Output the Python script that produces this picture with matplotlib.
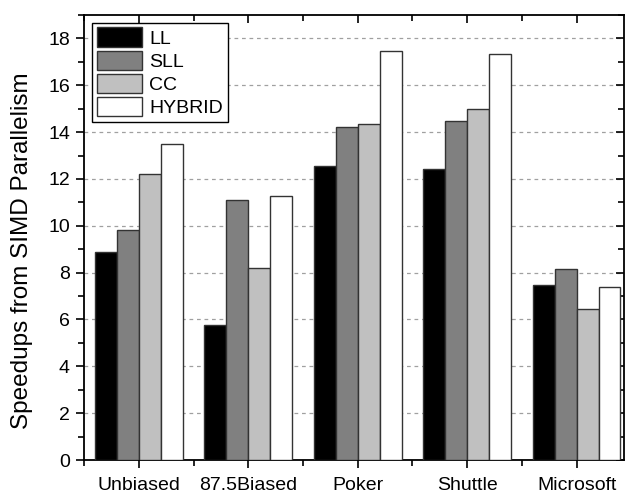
import matplotlib
matplotlib.use("Agg")
import matplotlib.pyplot as plt
import numpy as np
from matplotlib.ticker import MultipleLocator, FixedLocator

plt.rcParams['font.family'] = ['Liberation Sans', 'DejaVu Sans']

categories = ["Unbiased", "87.5Biased", "Poker", "Shuttle", "Microsoft"]
series_names = ["LL", "SLL", "CC", "HYBRID"]
LL = [8.88, 5.76, 12.54, 12.43, 7.48]
SLL = [9.83, 11.11, 14.23, 14.48, 8.16]
CC = [12.23, 8.19, 14.36, 15.0, 6.43]
HYBRID = [13.48, 11.28, 17.48, 17.32, 7.38]
colors = ["#000000", "#808080", "#c0c0c0", "#ffffff"]

fig = plt.figure(figsize=(6.26, 4.94), dpi=100)
ax = fig.add_axes([0.134, 0.0688, 0.863, 0.9008])

x = np.arange(1, len(categories) + 1)
w = 0.2
for i, (vals, c, name) in enumerate(zip([LL, SLL, CC, HYBRID], colors, series_names)):
    ax.bar(x + (i - 1.5) * w, vals, width=w, color=c, edgecolor="#333333",
           linewidth=1.0, label=name, zorder=3)

ax.set_xlim(0.498, 5.434)
ax.set_ylim(0, 19)
ax.set_xticks(x)
ax.set_xticklabels(categories)
ax.xaxis.set_minor_locator(FixedLocator(np.arange(0.5, 5.6, 1.0)))
ax.yaxis.set_major_locator(MultipleLocator(2))
ax.yaxis.set_minor_locator(MultipleLocator(1))
ax.tick_params(axis='both', which='major', direction='out', length=6, width=1.2,
               labelsize=14, top=True, right=True)
ax.tick_params(axis='both', which='minor', direction='out', length=4, width=1.2,
               top=True, right=True)
ax.tick_params(axis='y', which='major', pad=4)
ax.tick_params(axis='x', which='major', pad=6)
# top and right ticks inward
for t in ax.xaxis.get_major_ticks() + ax.xaxis.get_minor_ticks():
    t.tick2line.set_marker(matplotlib.lines.TICKDOWN)
for t in ax.yaxis.get_major_ticks() + ax.yaxis.get_minor_ticks():
    t.tick2line.set_marker(matplotlib.lines.TICKLEFT)

ax.yaxis.grid(True, which='major', linestyle=(0, (3, 3)), color="#a0a0a0", linewidth=0.9, zorder=0)
for s in ax.spines.values():
    s.set_linewidth(1.3)

ax.set_ylabel("Speedups from SIMD Parallelism", fontsize=17.5, va='center')
ax.yaxis.set_label_coords(-0.115, 0.47)

leg = ax.legend(loc='upper left', bbox_to_anchor=(0.0148, 0.983), fontsize=14,
                frameon=True, fancybox=False, edgecolor='black', framealpha=1,
                handlelength=2.35, handleheight=1.15, labelspacing=0.15,
                borderpad=0.25, handletextpad=0.35, borderaxespad=0)
leg.get_frame().set_linewidth(1.0)

fig.savefig("out.png", dpi=100)
